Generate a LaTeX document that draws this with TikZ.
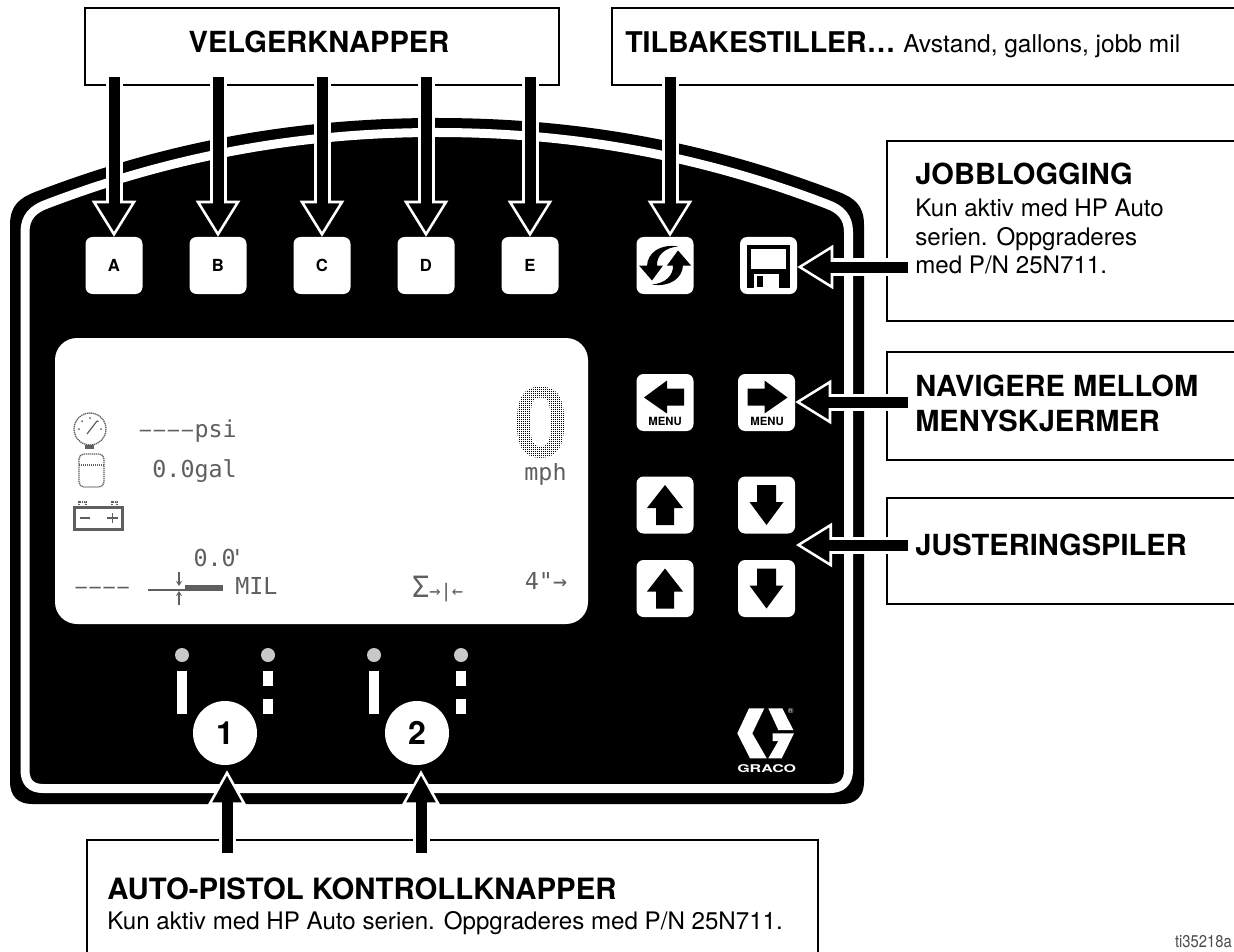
\documentclass[tikz,border=0pt]{standalone}
\usepackage{fontspec}
\setmainfont{TeX Gyre Heros}
\newfontfamily\lcdfont{DejaVu Sans Mono}
\usetikzlibrary{arrows.meta,calc}
\newdimen\px \px=0.75pt
\newcommand\lcddash{\makebox[10.5pt]{\scalebox{.8}[1]{–}}}
\definecolor{led}{RGB}{200,200,200}
\definecolor{lcd}{RGB}{95,95,95}
\tikzset{
  callout/.style={draw=black,fill=white,line width=2.4\px,anchor=north west,inner sep=0pt},
  heading/.style={font=\fontsize{21.8}{26.25}\selectfont\bfseries,inner sep=0pt,align=left},
  bodytext/.style={font=\fontsize{18.1}{21.4}\selectfont,inner sep=0pt,align=left},
  keybtn/.style={fill=white,rounded corners=7\px,minimum size=57\px,inner sep=0pt,
    font=\fontsize{12.5}{14}\selectfont\bfseries},
  roundbtn/.style={circle,fill=white,minimum size=64\px,inner sep=0pt,
    font=\fontsize{24}{26}\selectfont\bfseries},
  menulabel/.style={font=\fontsize{8.5}{10}\selectfont\bfseries,inner sep=0pt},
  lcdtext/.style={font=\lcdfont\fontsize{17.5}{20}\selectfont,text=lcd,inner sep=0pt},
  lcdicon/.style={draw=lcd,line width=1.3\px,dash pattern=on 1.3\px off 0.7\px},
  lcdline/.style={draw=lcd,line width=1.2\px},
  % hollow head on a black shaft with a white edge
  pointer/.style={draw=black,line width=11\px,shorten >=26\px,
    preaction={draw=white,line width=17\px,shorten >=0pt,
      -{Triangle[length=27pt,width=33pt,line width=1.9pt,fill=black]}}},
  small pointer/.style={draw=black,line width=11\px,shorten >=30\px,
    preaction={draw=white,line width=17\px,shorten >=5\px,
      -{Triangle[length=26pt,width=28.5pt,line width=1.9pt,fill=black]}}},
  % key pictograms
  pics/upkey/.style={code={
    \fill[black] (0,-20) -- (18,3) -- (9,3) -- (9,20) -- (-9,20) -- (-9,3) -- (-18,3) -- cycle;
  }},
  pics/downkey/.style={code={
    \fill[black] (0,20) -- (17,-3) -- (9.5,-3) -- (9.5,-20) -- (-9.5,-20) -- (-9.5,-3) -- (-17,-3) -- cycle;
  }},
  pics/leftkey/.style={code={
    \fill[black] (-21,-5) -- (2,-22) -- (2,-14) -- (19,-14) -- (19,3) -- (2,3) -- (2,11) -- cycle;
  }},
  pics/rightkey/.style={code={
    \fill[black] (21,-5) -- (-2,-22) -- (-2,-14) -- (-19,-14) -- (-19,3) -- (-2,3) -- (-2,11) -- cycle;
  }},
  pics/turnover/.style={code={
    \foreach \r in {0,180} {
      \begin{scope}[rotate=\r]
        \fill[black] (-26,0) -- (-2,0) -- (-13,15) -- cycle;
        \fill[black] (-18,1) .. controls (-18,-13) and (-4,-22) .. (13,-19) .. controls (0,-18) and (-9,-10) .. (-8,1) -- cycle;
      \end{scope}
    }
  }},
  pics/floppy/.style={code={
    \fill[black] (-21.5,-20.5) rectangle (21.5,22.5);
    \fill[white] (-17.5,-16.5) rectangle (17.5,3.5);
    \fill[white] (-15,8.5) rectangle (10,22.5);
    \fill[black] (-12,10.5) rectangle (-6,21.5);
  }},
}
\begin{document}
\begin{tikzpicture}[x=0.75pt,y=-0.75pt]
  \path[use as bounding box,clip] (0,0) rectangle (1234,952);
  \fill[white] (0,0) rectangle (1234,952);
  % callouts
  \node[callout,minimum width=474\px,minimum height=77\px] (velger) at (84,7) {};
  \node[callout,minimum width=650\px,minimum height=77\px] (tilbake) at (611,7) {};
  \node[callout,minimum width=370\px,minimum height=180\px] (jobb) at (886,140) {};
  \node[callout,minimum width=370\px,minimum height=108\px] (navigere) at (886,351) {};
  \node[callout,minimum width=370\px,minimum height=106\px] (juster) at (886,497) {};
  \node[callout,minimum width=731\px,minimum height=150\px] (auto) at (86,839) {};
  % panel
  \fill[black] (10,225) .. controls (10,205) and (20,198) .. (35,192)
    .. controls (170,140) and (300,118) .. (437,118)
    .. controls (574,118) and (704,140) .. (839,192)
    .. controls (854,198) and (864,205) .. (864,225)
    -- (864,782) .. controls (864,796) and (856,804) .. (842,804)
    -- (32,804) .. controls (18,804) and (10,796) .. (10,782) -- cycle;
  \draw[white,line width=9\px] (25,232) .. controls (25,217) and (33,209) .. (47,204)
    .. controls (178,154) and (305,132.5) .. (437,132.5)
    .. controls (569,132.5) and (696,154) .. (826.5,204)
    .. controls (840.5,209) and (848.5,217) .. (848.5,232)
    -- (848.5,770) .. controls (848.5,782) and (842,788.5) .. (830,788.5)
    -- (43,788.5) .. controls (31,788.5) and (25,782) .. (25,770) -- cycle;
  % keys
  \foreach \n/\x in {A/114,B/218,C/322,D/426,E/530} {
    \node[keybtn] (btn\n) at (\x,265.5) {\n};
    \coordinate (from\n) at (\x,77);
  }
  \node[keybtn] (reset) at (665,265.5) {};
  \node[keybtn] (save) at (768.5,265.5) {};
  \node[keybtn] (prev) at (665,402.5) {};
  \node[keybtn] (next) at (766.5,402.5) {};
  \node[keybtn] (up1) at (665,505) {};
  \node[keybtn] (down1) at (766.5,505) {};
  \node[keybtn] (up2) at (665,588.5) {};
  \node[keybtn] (down2) at (766.5,588.5) {};
  \pic at (reset) {turnover};
  \pic at (save) {floppy};
  \pic at (prev) {leftkey};
  \pic at (next) {rightkey};
  \pic at (up1) {upkey};
  \pic at (up2) {upkey};
  \pic at (down1) {downkey};
  \pic at (down2) {downkey};
  \node[menulabel] (prevtxt) at (665,421) {MENU};
  \node[menulabel] (nexttxt) at (767,421) {MENU};
  % display
  \fill[white,rounded corners=22\px] (55,338) rectangle (588,624);
  \draw[lcdicon] (90,429) circle (16);
  \draw[lcdline] (87,434) -- (97,421);
  \foreach \a in {45,90,135,180,0} \fill[lcd] (90,429) ++(\a:-11) circle (1);
  \fill[lcd] (85,445) rectangle (94,449);
  \draw[lcdicon,rounded corners=5\px] (79,454) rectangle (104,487);
  \draw[lcdicon] (79,465) -- (104,465);
  \draw[lcdline,line width=3\px] (74.5,507) rectangle (122.5,529);
  \draw[lcdicon] (79,505) -- (79,502) -- (86,502) -- (86,505);
  \draw[lcdicon] (112,505) -- (112,502) -- (117,502) -- (117,505);
  \draw[lcdline,line width=1.5\px] (80,518) -- (90,518) (107,518) -- (118,518) (112.5,513) -- (112.5,523);
  \node[lcdtext,anchor=base east] (psi) at (237,437) {\lcddash\lcddash\lcddash\lcddash psi};
  \node[lcdtext,anchor=base east] (gal) at (237,477) {0.0gal};
  \node[lcdtext,anchor=base east] (dist) at (236,566) {0.0\rlap{\kern-4pt'}};
  \node[lcdtext,anchor=base west] (dash) at (74,594) {\lcddash\lcddash\lcddash\lcddash};
  \node[lcdtext,anchor=base west] (mil) at (235,594) {MIL};
  \node[lcdtext,anchor=base] (mph) at (545.5,480) {mph};
  \node[lcdtext,anchor=base,font=\lcdfont\fontsize{14}{18}\selectfont] (sigma) at (437.5,597) {{\fontsize{22}{22}\selectfont Σ}→|←};
  \node[lcdtext,anchor=base] (tip) at (546,589) {4"→};
  \node[anchor=base,inner sep=0pt,text=black,font=\fontsize{73}{73}\selectfont\bfseries] (speed) at (541.5,457) {0};
  \foreach \x in {514,516,...,570} \draw[white,line width=0.18\px] (\x,384) -- (\x,462);
  \foreach \y in {384,386,...,462} \draw[white,line width=0.18\px] (514,\y) -- (570,\y);
  \draw[lcdline] (148,590) -- (185,590);
  \fill[lcd] (185,585) rectangle (223,591);
  \draw[lcdline,-{Stealth[length=3.75pt,width=4.5pt]}] (179,572) -- (179,586);
  \draw[lcdline,-{Stealth[length=3.75pt,width=4.5pt]}] (179,605) -- (179,591);
  % lamps and round keys
  \foreach \n/\a/\b in {1/182/268,2/374/461} {
    \fill[led] (\a,655) circle (7);
    \fill[led] (\b,655) circle (7);
    \fill[white] (\a-5,671) rectangle (\a+5,714);
    \fill[white] (\b-5,671) rectangle (\b+5,686);
    \fill[white] (\b-5,699) rectangle (\b+5,714);
  }
  \node[roundbtn] (gun1) at (225,733) {1};
  \node[roundbtn] (gun2) at (417,733) {2};
  % logo
  \fill[white] (737.3,733.3) -- (749,708.3) -- (764.3,708.3) -- (752.3,733.3) -- (766.7,758.3) -- (750,758.3) -- cycle;
  \fill[white] (768.3,708.3) -- (782.3,708.3) -- (793.3,730) -- (778.3,730) -- cycle;
  \fill[white] (772.7,733.3) -- (794,733.3) -- (781.7,758.3) -- (768.3,758.3) -- (778.3,741) -- (772.7,741) -- cycle;
  \node[text=white,inner sep=0pt,font=\fontsize{5.5}{6}\selectfont] (reg) at (790.7,710.7) {®};
  \node[text=white,inner sep=0pt,font=\fontsize{8}{9}\selectfont\bfseries] (brand) at (766.7,769) {\scalebox{1.5}[1]{GRACO}};
  % texts
  \node[heading,anchor=base] (velgertxt) at (319,53) {VELGERKNAPPER};
  \node[heading,anchor=base west] (tilbaketxt) at (625,53) {\fontsize{21.4}{26}\selectfont TILBAKESTILLER… \fontsize{18.4}{21.4}\selectfont\mdseries Avstand, gallons, jobb mil};
  \node[heading,anchor=base west] (jobbtxt) at (915,185) {JOBBLOGGING};
  \node[bodytext,anchor=north west] (jobbbody) at (915,199) {Kun aktiv med HP Auto\\serien. Oppgraderes\\med P/N 25N711.};
  \node[heading,anchor=north west] (navigeretxt) at (915,375) {NAVIGERE MELLOM\\MENYSKJERMER};
  \node[heading,anchor=base west] (justertxt) at (915,555) {JUSTERINGSPILER};
  \node[heading,anchor=base west,font=\fontsize{22}{26}\selectfont\bfseries] (autotxt) at (107,899) {AUTO-PISTOL KONTROLLKNAPPER};
  \node[bodytext,anchor=base west] (autobody) at (107,929) {Kun aktiv med HP Auto serien. Oppgraderes med P/N 25N711.};
  \node[anchor=base east,inner sep=0pt,text=black!70,font=\fontsize{12.75}{14}\selectfont] (figno) at (1232,947) {\scalebox{.87}[1]{ti35218a}};
  % pointers
  \foreach \n in {A,B,C,D,E} \draw[pointer] (from\n) -- (btn\n.north);
  \coordinate (fromreset) at (670,77);
  \draw[pointer] (fromreset) -- (fromreset |- reset.north);
  \coordinate (fromjobb) at (908,267);
  \draw[pointer] (fromjobb) -- (fromjobb -| save.east);
  \coordinate (fromnav) at (908,402);
  \draw[pointer] (fromnav) -- (fromnav -| next.east);
  \coordinate (fromjust) at (908,545);
  \coordinate (endjust) at (796,545);
  \draw[pointer] (fromjust) -- (endjust);
  \coordinate (fromgun1) at (227,853);
  \draw[small pointer] (fromgun1) -- (fromgun1 |- gun1.south);
  \coordinate (fromgun2) at (421,853);
  \draw[small pointer] (fromgun2) -- (fromgun2 |- gun2.south);
\end{tikzpicture}
\end{document}
